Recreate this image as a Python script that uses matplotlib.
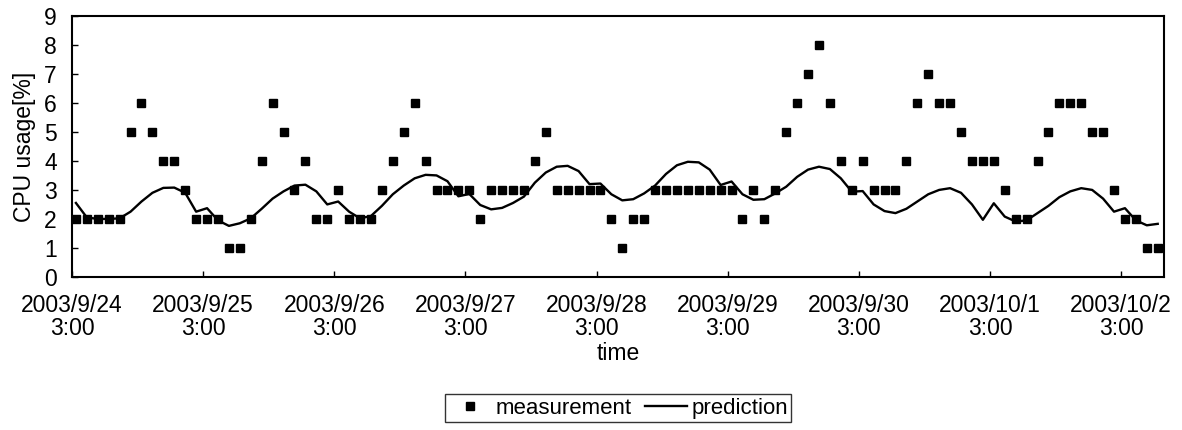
import numpy as np
import matplotlib
matplotlib.use("Agg")
import matplotlib.pyplot as plt

plt.rcParams['font.family'] = ['Liberation Sans', 'DejaVu Sans']

# measured CPU usage, one sample every 2 hours
measurement = [2, 2, 2, 2, 2, 5, 6, 5, 4, 4, 3, 2, 2, 2, 1, 1, 2, 4, 6, 5,
               3, 4, 2, 2, 3, 2, 2, 2, 3, 4, 5, 6, 4, 3, 3, 3, 3, 2, 3, 3,
               3, 3, 4, 5, 3, 3, 3, 3, 3, 2, 1, 2, 2, 3, 3, 3, 3, 3, 3, 3,
               3, 2, 3, 2, 3, 5, 6, 7, 8, 6, 4, 3, 4, 3, 3, 3, 4, 6, 7, 6,
               6, 5, 4, 4, 4, 3, 2, 2, 4, 5, 6, 6, 6, 5, 5, 3, 2, 2, 1, 1]

prediction = [2.55, 2.05, 2.0, 2.0, 2.02, 2.25, 2.6, 2.9, 3.07, 3.08,
              2.9, 2.25, 2.37, 1.95, 1.76, 1.85, 2.02, 2.35, 2.7, 2.95,
              3.15, 3.18, 2.95, 2.5, 2.6, 2.25, 2.02, 2.1, 2.45, 2.85,
              3.15, 3.4, 3.52, 3.5, 3.3, 2.78, 2.86, 2.48, 2.33, 2.38,
              2.55, 2.77, 3.25, 3.6, 3.8, 3.83, 3.65, 3.2, 3.22, 2.85,
              2.64, 2.68, 2.88, 3.15, 3.55, 3.85, 3.97, 3.95, 3.7, 3.17,
              3.29, 2.85, 2.66, 2.68, 2.88, 3.11, 3.45, 3.7, 3.8, 3.72,
              3.4, 2.94, 2.96, 2.5, 2.27, 2.2, 2.35, 2.6, 2.85, 3.0,
              3.06, 2.9, 2.5, 1.97, 2.54, 2.08, 1.91, 1.95, 2.2, 2.45,
              2.75, 2.95, 3.06, 3.0, 2.7, 2.25, 2.37, 1.95, 1.78, 1.83]

tick_labels = ["2003/9/24\n3:00", "2003/9/25\n3:00", "2003/9/26\n3:00",
               "2003/9/27\n3:00", "2003/9/28\n3:00", "2003/9/29\n3:00",
               "2003/9/30\n3:00", "2003/10/1\n3:00", "2003/10/2\n3:00"]
per_day = 12  # samples per day

x = np.arange(len(measurement))

fig = plt.figure(figsize=(11.82, 4.30), dpi=100)
ax = fig.add_axes([0.061, 0.356, 0.924, 0.607])

ax.plot(x, measurement, linestyle='none', marker='s', markersize=5.8,
        color='black', label='measurement')
ax.plot(x, prediction, color='black', linewidth=1.7, label='prediction')

ax.set_xlim(-0.35, len(x) - 0.4)
ax.set_ylim(0, 9)
ax.set_yticks(range(0, 10))
ticks = -0.35 + per_day * np.arange(len(tick_labels))
ax.set_xticks(ticks)
ax.set_xticklabels(tick_labels, linespacing=1.05)

for s in ax.spines.values():
    s.set_linewidth(1.5)
    s.set_color('black')
ax.tick_params(direction='in', length=4, width=1, labelsize=16.5)
ax.tick_params(axis='x', pad=12)
ax.tick_params(axis='y', pad=11)

ax.set_ylabel('CPU usage[%]', fontsize=16.5, labelpad=6)
ax.set_xlabel('time', fontsize=16.5, labelpad=1)

leg = fig.legend(loc='center', bbox_to_anchor=(0.523, 0.051), ncol=2,
                 fontsize=16, frameon=True, fancybox=False, handlelength=1.9,
                 handletextpad=0.2, columnspacing=0.6, borderpad=0.15,
                 markerscale=1.0, edgecolor='black')
leg.get_frame().set_linewidth(1.0)

fig.savefig('out.png', dpi=100)
